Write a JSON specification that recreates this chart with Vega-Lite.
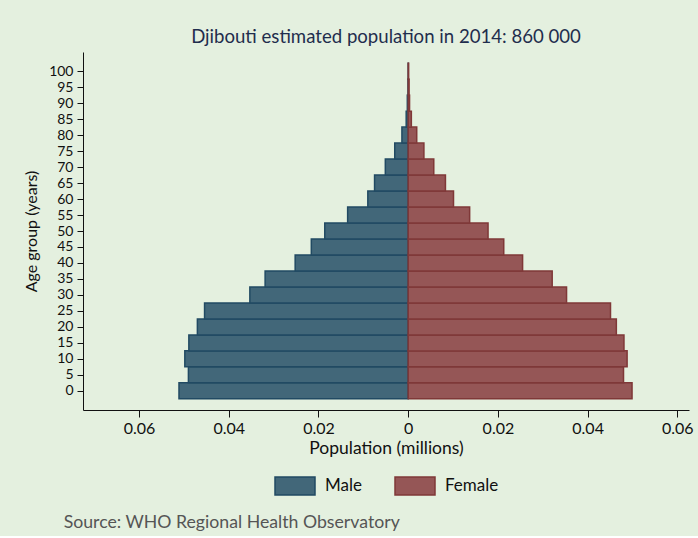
{
  "$schema": "https://vega.github.io/schema/vega-lite/v6.json",
  "background": "#e4f0df",
  "padding": {"left": 23, "top": 28, "right": 5, "bottom": 4},
  "config": {
    "view": {"stroke": null},
    "font": "Lato",
    "legend": {"layout": {"bottom": {"anchor": "middle"}}}
  },
  "title": {
    "text": "Source: WHO Regional Health Observatory",
    "orient": "bottom",
    "anchor": "start",
    "frame": "bounds",
    "fontSize": 17.7,
    "fontWeight": "normal",
    "font": "Lato",
    "color": "#555555",
    "baseline": "top",
    "offset": 16,
    "dx": 40
  },
  "vconcat": [
    {
      "width": 606,
      "height": 358,
      "title": {
        "text": "Djibouti estimated population in 2014: 860 000",
        "anchor": "middle",
        "frame": "group",
        "fontSize": 18.6,
        "fontWeight": "normal",
        "font": "Lato",
        "color": "#1f2d4d",
        "baseline": "alphabetic",
        "offset": -10
      },
      "data": {
        "values": [
          {"age": 0, "sex": "Male", "pop": 0.0511},
          {"age": 5, "sex": "Male", "pop": 0.0490},
          {"age": 10, "sex": "Male", "pop": 0.0498},
          {"age": 15, "sex": "Male", "pop": 0.0489},
          {"age": 20, "sex": "Male", "pop": 0.0470},
          {"age": 25, "sex": "Male", "pop": 0.0454},
          {"age": 30, "sex": "Male", "pop": 0.0353},
          {"age": 35, "sex": "Male", "pop": 0.0319},
          {"age": 40, "sex": "Male", "pop": 0.0252},
          {"age": 45, "sex": "Male", "pop": 0.0216},
          {"age": 50, "sex": "Male", "pop": 0.0186},
          {"age": 55, "sex": "Male", "pop": 0.0135},
          {"age": 60, "sex": "Male", "pop": 0.0090},
          {"age": 65, "sex": "Male", "pop": 0.0075},
          {"age": 70, "sex": "Male", "pop": 0.0051},
          {"age": 75, "sex": "Male", "pop": 0.0030},
          {"age": 80, "sex": "Male", "pop": 0.0014},
          {"age": 85, "sex": "Male", "pop": 0.00045},
          {"age": 90, "sex": "Male", "pop": 0.0002},
          {"age": 95, "sex": "Male", "pop": 0.00005},
          {"age": 100, "sex": "Male", "pop": 0.00001},
          {"age": 0, "sex": "Female", "pop": 0.0499},
          {"age": 5, "sex": "Female", "pop": 0.0480},
          {"age": 10, "sex": "Female", "pop": 0.0488},
          {"age": 15, "sex": "Female", "pop": 0.0481},
          {"age": 20, "sex": "Female", "pop": 0.0464},
          {"age": 25, "sex": "Female", "pop": 0.0451},
          {"age": 30, "sex": "Female", "pop": 0.0353},
          {"age": 35, "sex": "Female", "pop": 0.0321},
          {"age": 40, "sex": "Female", "pop": 0.0255},
          {"age": 45, "sex": "Female", "pop": 0.0213},
          {"age": 50, "sex": "Female", "pop": 0.0178},
          {"age": 55, "sex": "Female", "pop": 0.0137},
          {"age": 60, "sex": "Female", "pop": 0.0101},
          {"age": 65, "sex": "Female", "pop": 0.0083},
          {"age": 70, "sex": "Female", "pop": 0.0057},
          {"age": 75, "sex": "Female", "pop": 0.0035},
          {"age": 80, "sex": "Female", "pop": 0.0019},
          {"age": 85, "sex": "Female", "pop": 0.0007},
          {"age": 90, "sex": "Female", "pop": 0.0003},
          {"age": 95, "sex": "Female", "pop": 0.0002},
          {"age": 100, "sex": "Female", "pop": 0.0001}
        ]
      },
      "encoding": {
        "y": {
          "field": "age",
          "type": "quantitative",
          "scale": {"domain": [-6, 106], "nice": false, "zero": false, "padding": 0},
          "axis": {
            "title": "Age group (years)",
            "values": [0, 5, 10, 15, 20, 25, 30, 35, 40, 45, 50, 55, 60, 65, 70, 75, 80, 85, 90, 95, 100],
            "grid": false,
            "labelOverlap": false,
            "labelFlush": false,
            "labelFontSize": 14,
            "labelColor": "#111111",
            "labelPadding": 4,
            "tickSize": 6,
            "tickColor": "#111111",
            "domainColor": "#111111",
            "titleFontSize": 16,
            "titleFontWeight": "normal",
            "titleColor": "#111111",
            "titlePadding": 9
          }
        },
        "fill": {
          "field": "sex",
          "type": "nominal",
          "scale": {"domain": ["Male", "Female"], "range": ["#426779", "#955656"]},
          "legend": {
            "orient": "bottom",
            "direction": "horizontal",
            "title": null,
            "symbolType": "M-1,-0.45H1V0.45H-1Z",
            "symbolSize": 1600,
            "symbolStrokeWidth": 1.5,
            "symbolOpacity": 1,
            "labelFontSize": 17,
            "labelColor": "#111111",
            "labelOffset": 9,
            "columnPadding": 30,
            "offset": 8
          }
        },
        "stroke": {
          "field": "sex",
          "type": "nominal",
          "scale": {"domain": ["Male", "Female"], "range": ["#214a63", "#7f3838"]},
          "legend": {
            "orient": "bottom",
            "direction": "horizontal",
            "title": null,
            "symbolType": "M-1,-0.45H1V0.45H-1Z",
            "symbolSize": 1600,
            "symbolStrokeWidth": 1.5,
            "symbolOpacity": 1,
            "labelFontSize": 17,
            "labelColor": "#111111",
            "labelOffset": 9,
            "columnPadding": 30,
            "offset": 8
          }
        }
      },
      "layer": [
        {
          "transform": [{"filter": "datum.sex == 'Male'"}],
          "mark": {"type": "bar", "size": 16, "strokeWidth": 1.5, "opacity": 1},
          "encoding": {
            "x": {
              "field": "pop",
              "type": "quantitative",
              "scale": {"domain": [-0.0626, 0.0725], "reverse": true, "nice": false, "zero": false},
              "axis": null
            },
            "x2": {"datum": 0}
          }
        },
        {
          "transform": [{"filter": "datum.sex == 'Female'"}],
          "mark": {"type": "bar", "size": 16, "strokeWidth": 1.5, "opacity": 1},
          "encoding": {
            "x": {
              "field": "pop",
              "type": "quantitative",
              "scale": {"domain": [-0.0725, 0.0626], "nice": false, "zero": false},
              "axis": {
                "title": "Population (millions)",
                "values": [-0.06, -0.04, -0.02, 0, 0.02, 0.04, 0.06],
                "labelExpr": "format(abs(datum.value), '.2~f')",
                "grid": false,
                "labelFlush": false,
                "labelFontSize": 16,
                "labelColor": "#111111",
                "labelPadding": 3,
                "tickSize": 7,
                "tickColor": "#111111",
                "domainColor": "#111111",
                "titleFontSize": 17.5,
                "titleFontWeight": "normal",
                "titleColor": "#111111",
                "titlePadding": 3
              }
            },
            "x2": {"datum": 0}
          }
        }
      ],
      "resolve": {"scale": {"x": "independent"}, "axis": {"x": "independent"}}
    }
  ]
}
